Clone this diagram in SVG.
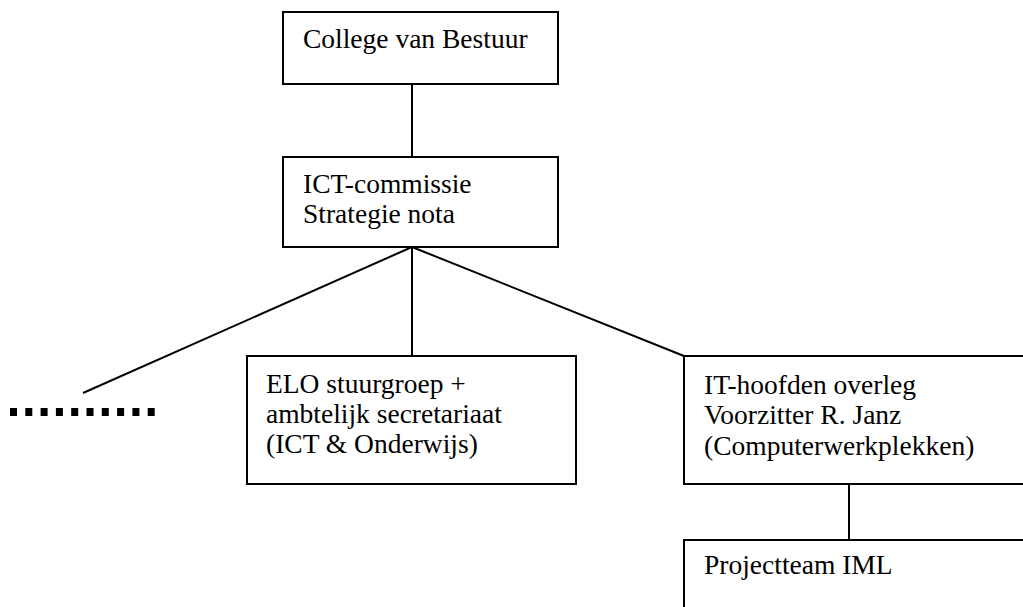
<svg xmlns="http://www.w3.org/2000/svg" width="1023" height="607" viewBox="0 0 1023 607">
<style>
.box{fill:#fff;stroke:#000;stroke-width:2}
.ln{stroke:#000;stroke-width:2;fill:none}
.t{font-family:"Liberation Serif","Times New Roman",serif;font-size:27.5px;fill:#000}
</style>
<rect width="1023" height="607" fill="#fff"/>
<g id="connectors">
<line class="ln" x1="412" y1="84" x2="412" y2="157"/>
<line class="ln" x1="412" y1="247" x2="83" y2="393"/>
<line class="ln" x1="412" y1="247" x2="412" y2="356"/>
<line class="ln" x1="412" y1="247" x2="684" y2="356"/>
<line class="ln" x1="849" y1="484" x2="849" y2="540"/>
<line x1="10" y1="412" x2="156" y2="412" stroke="#000" stroke-width="8" stroke-dasharray="7 8.3"/>
</g>
<g id="college">
<rect class="box" x="283" y="12" width="275" height="72"/>
<text class="t" x="303" y="48">College van Bestuur</text>
</g>
<g id="ict">
<rect class="box" x="283" y="157" width="275" height="90"/>
<text class="t" x="303" y="193">ICT-commissie</text>
<text class="t" x="303" y="223">Strategie nota</text>
</g>
<g id="elo">
<rect class="box" x="247" y="356" width="329" height="128"/>
<text class="t" x="266" y="393">ELO stuurgroep +</text>
<text class="t" x="266" y="423">ambtelijk secretariaat</text>
<text class="t" x="266" y="453">(ICT &amp; Onderwijs)</text>
</g>
<g id="ithoofden">
<rect class="box" x="684" y="356" width="360" height="128"/>
<text class="t" x="704" y="394">IT-hoofden overleg</text>
<text class="t" x="704" y="424">Voorzitter R. Janz</text>
<text class="t" x="704" y="455">(Computerwerkplekken)</text>
</g>
<g id="projectteam">
<rect class="box" x="684" y="540" width="360" height="90"/>
<text class="t" x="704" y="574">Projectteam IML</text>
</g>
</svg>
